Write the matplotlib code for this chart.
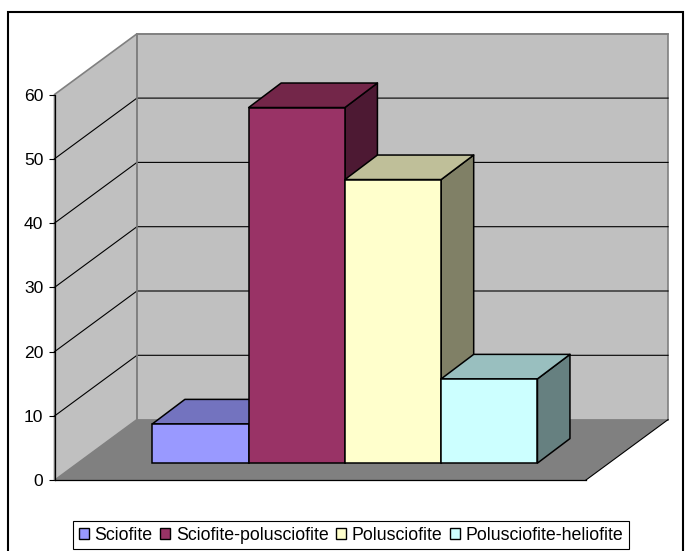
import matplotlib
matplotlib.use('Agg')
import matplotlib.pyplot as plt
from matplotlib.patches import Patch, Rectangle

plt.rcParams['font.family'] = ['Liberation Sans', 'DejaVu Sans']

categories = ['Sciofite', 'Sciofite-polusciofite', 'Polusciofite', 'Polusciofite-heliofite']
values = [6.1, 55.3, 44.1, 13.1]
y_ticks = [0, 10, 20, 30, 40, 50, 60]
front_colors = ['#9999FF', '#993366', '#FFFFCC', '#CCFFFF']
top_colors = ['#7373BF', '#732649', '#BFBF99', '#99BFBF']
side_colors = ['#4D4D80', '#4D1933', '#808066', '#668080']

W, H = 687, 551
px_x = 96.3  # pixels per category
px_y = 6.43  # pixels per value unit

# oblique depth, data units
wall_dx, wall_dy = 82.5 / px_x, 60.7 / px_y
bar_dx, bar_dy = 32.5 / px_x, 24.5 / px_y
bar_floor = 17.2 / px_y
x0, x1 = -1.517, 4.0

fig = plt.figure(figsize=(W / 100, H / 100), dpi=100)
fig.patches.append(Rectangle((8 / W, -0.01), 675 / W, 1 - 12 / H + 0.01, transform=fig.transFigure,
                             fill=False, ec='black', lw=1.5))

left, right, top, bottom = 54.5, 585.6, 94.5, 480.3
ax = fig.add_axes([left / W, 1 - bottom / H, (right - left) / W, (bottom - top) / H])
ax.set_xlim(x0, x1)
ax.set_ylim(0, 60)
ax.patch.set_visible(False)

# walls and floor
ax.fill([x0, x0 + wall_dx, x0 + wall_dx, x0], [0, wall_dy, 60 + wall_dy, 60],
        fc='#C0C0C0', ec='#808080', lw=1.2, clip_on=False, zorder=1)
ax.fill([x0 + wall_dx, x1 + wall_dx, x1 + wall_dx, x0 + wall_dx], [wall_dy, wall_dy, 60 + wall_dy, 60 + wall_dy],
        fc='#C0C0C0', ec='#808080', lw=1.2, clip_on=False, zorder=1)
ax.fill([x0, x0 + wall_dx, x1 + wall_dx, x1], [0, wall_dy, wall_dy, 0],
        fc='#808080', ec='none', clip_on=False, zorder=2)
ax.plot([x1, x1 + wall_dx], [0, wall_dy], color='black', lw=0.8, clip_on=False, zorder=2)

# grid lines on both walls
for t in y_ticks[1:-1]:
    ax.plot([x0, x0 + wall_dx, x1 + wall_dx], [t, t + wall_dy, t + wall_dy],
            color='black', lw=0.8, clip_on=False, zorder=3)
ax.plot([x0 + wall_dx, x1 + wall_dx], [60 + wall_dy, 60 + wall_dy], color='#808080', lw=1.2, clip_on=False, zorder=3)
ax.plot([x0 + wall_dx, x0 + wall_dx], [wall_dy, 60 + wall_dy], color='#808080', lw=1.2, clip_on=False, zorder=3)

# bars, left to right so each one covers the side of the previous one
for i, v in enumerate(values):
    l, r = i - 0.5, i + 0.5
    b, t = bar_floor, bar_floor + v
    z = 4 + i
    ax.fill([r, r + bar_dx, r + bar_dx, r], [b, b + bar_dy, t + bar_dy, t],
            fc=side_colors[i], ec='black', lw=1.1, joinstyle='round', clip_on=False, zorder=z)
    ax.fill([l, l + bar_dx, r + bar_dx, r], [t, t + bar_dy, t + bar_dy, t],
            fc=top_colors[i], ec='black', lw=1.1, joinstyle='round', clip_on=False, zorder=z)
    ax.bar(i, v, width=1, bottom=b, color=front_colors[i], edgecolor='black', lw=1.1, clip_on=False, zorder=z)

ax.set_xticks([])
ax.set_yticks(y_ticks)
ax.tick_params(axis='y', length=4.5, width=0.8, pad=3.6, labelsize=12.6, color='black')
for s in ['top', 'right']:
    ax.spines[s].set_visible(False)
for s in ['left', 'bottom']:
    ax.spines[s].set_linewidth(0.9)
    ax.spines[s].set_zorder(3)

handles = [Patch(facecolor=c, edgecolor='black', lw=1.0) for c in front_colors]
leg = fig.legend(handles, categories, ncols=4, loc='center', bbox_to_anchor=(351 / W, 1 - 535 / H),
                 fontsize=12.8, frameon=True, fancybox=False, framealpha=1, edgecolor='black',
                 handlelength=0.56, handleheight=0.56, handletextpad=0.34, columnspacing=0.40,
                 borderpad=0.32, borderaxespad=0)
leg.get_frame().set_linewidth(0.8)

fig.savefig('out.png', dpi=100)
